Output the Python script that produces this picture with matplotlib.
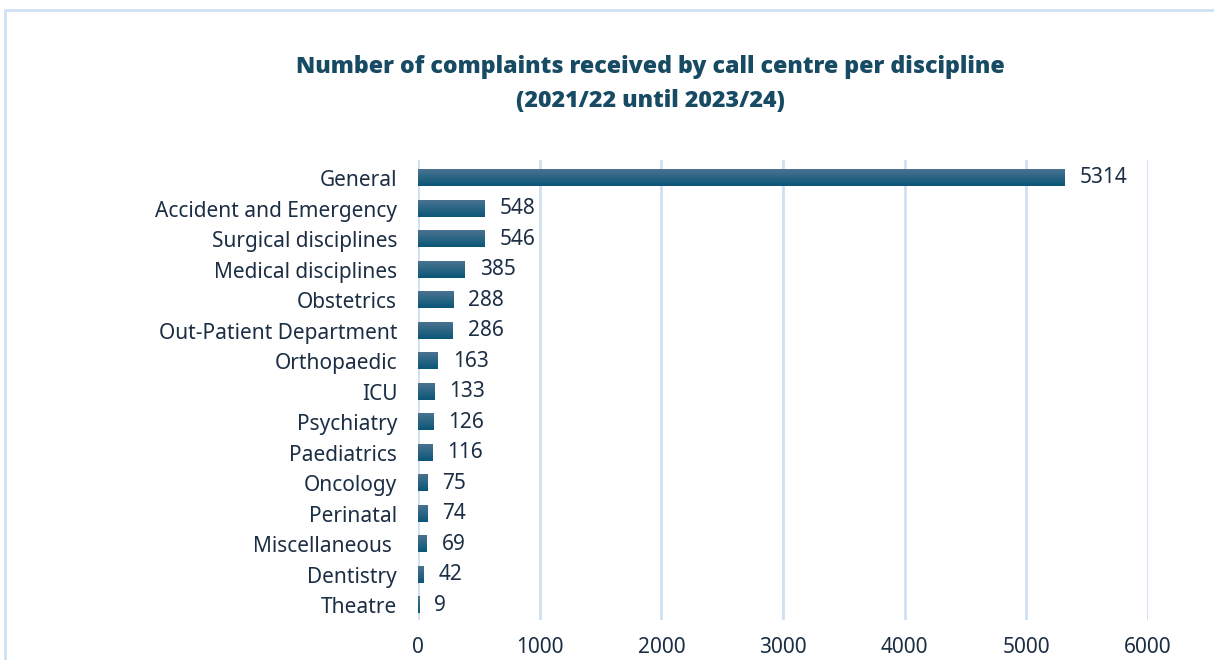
import matplotlib.pyplot as plt
import numpy as np
from matplotlib.patches import Rectangle
from matplotlib.colors import LinearSegmentedColormap

categories = ["General", "Accident and Emergency", "Surgical disciplines",
              "Medical disciplines", "Obstetrics", "Out-Patient Department",
              "Orthopaedic", "ICU", "Psychiatry", "Paediatrics", "Oncology",
              "Perinatal", "Miscellaneous ", "Dentistry", "Theatre"]
complaints = [5314, 548, 546, 385, 288, 286, 163, 133, 126, 116, 75, 74, 69, 42, 9]
xticks = [0, 1000, 2000, 3000, 4000, 5000, 6000]

text_col = "#1c2e44"
title_col = "#174a63"
grid_col = "#cfe0f3"
font = "Noto Sans"

fig = plt.figure(figsize=(12.14, 6.6), dpi=100)
ax = fig.add_axes([418 / 1214, 1 - 620 / 660, 730 / 1214, 460 / 660])

y = np.arange(len(categories))
bars = ax.barh(y, complaints, height=0.53, color="none", zorder=3)

# vertical gradient inside each bar: lighter top, darker bottom
grad = np.linspace(0, 1, 64).reshape(-1, 1)
cmap = LinearSegmentedColormap.from_list("bar", ["#4a7391", "#0b5677"])
for b in bars:
    x0, y0 = b.get_x(), b.get_y()
    w, h = b.get_width(), b.get_height()
    ax.imshow(grad, cmap=cmap, aspect="auto", origin="lower",
              extent=(x0, x0 + w, y0, y0 + h), zorder=3, interpolation="bilinear")

for yi, v in zip(y, complaints):
    ax.annotate(str(v), (v, yi), xytext=(11, 0), textcoords="offset points",
                va="center", ha="left", fontsize=15, color=text_col,
                family=font, zorder=4)

ax.set_xlim(0, 6000)
ax.set_ylim(14.49, -0.59)
ax.set_xticks(xticks)
ax.set_xticklabels([str(t) for t in xticks], fontsize=15, color=text_col, family=font)
ax.set_yticks(y)
ax.set_yticklabels(categories, fontsize=15, color=text_col, family=font)
ax.tick_params(length=0)
ax.tick_params(axis="x", pad=12)
ax.tick_params(axis="y", pad=15)
ax.grid(axis="x", color=grid_col, linewidth=2, zorder=0)
for s in ax.spines.values():
    s.set_visible(False)

title_kw = dict(ha="center", va="center", fontsize=16.7, fontweight="heavy",
                color=title_col, family="Open Sans")
fig.text(650 / 1214, 1 - 67 / 660,
         "Number of complaints received by call centre per discipline", **title_kw)
fig.text(650 / 1214, 1 - 101 / 660, "(2021/22 until 2023/24)", **title_kw)

# outer frame, only top and left edges fall inside the canvas
fig.patches.append(Rectangle((5 / 1214, -0.1), 1.2, 1.1 - 10 / 660,
                             transform=fig.transFigure, fill=False,
                             edgecolor=grid_col, linewidth=2))

fig.savefig("out.png", dpi=100)
